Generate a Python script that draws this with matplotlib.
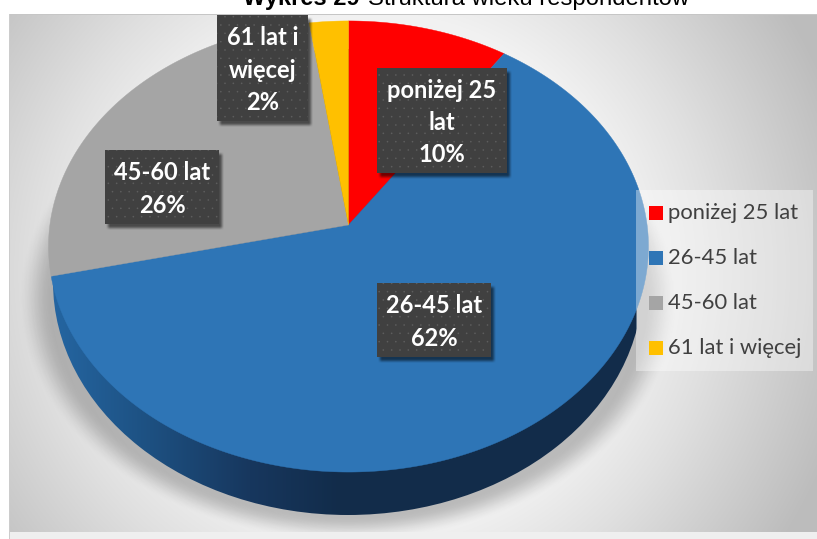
import numpy as np
import matplotlib
matplotlib.use('Agg')
import matplotlib.pyplot as plt
from matplotlib.patches import Rectangle, Ellipse

# dane
categories = ['poniżej 25 lat', '26-45 lat', '45-60 lat', '61 lat i więcej']
shares = [9.5, 61.9, 26.3, 2.3]
colors = ['#ff0000', '#2e75b6', '#a5a5a5', '#ffc000']
box_lines = [['poniżej 25', 'lat'], ['26-45 lat'], ['45-60 lat'], ['61 lat i', 'więcej']]
title_bold = 'Wykres 29'
title_rest = 'Struktura wieku respondentów'

W, H = 817, 539
plt.rcParams['font.family'] = ['Lato', 'DejaVu Sans']
plt.rcParams['hatch.linewidth'] = 0.0
fig = plt.figure(figsize=(W / 100, H / 100), dpi=100)
ax = fig.add_axes([0, 0, 1, 1])
ax.set_axis_off()

xx, yy = np.meshgrid(np.arange(W) + 0.5, np.arange(H) + 0.5)
EXT = (0, W, H, 0)

# tlo - gradient radialny
r = np.hypot(xx - 375, yy - 272)
shade = np.interp(r, [0, 260, 340, 440, 490], [0xf2, 0xf1, 0xe0, 0xc8, 0xbc]) / 255
bg = np.dstack([shade, shade, shade])
bg[yy < 14] = 1
bg[xx < 9] = 1
bg[(yy >= 532) & (xx >= 9)] = 0.94
bg[(yy >= 14) & (yy < 15.5) & (xx >= 9)] = 0.78
bg[(xx >= 9) & (xx < 10.5) & (yy >= 14)] = 0.80
ax.imshow(bg, extent=EXT, aspect='auto', zorder=0)

# cien pod wykresem
d = (np.hypot((xx - 348) / 313, (yy - 300) / 229) - 1) * 270
sh = np.clip(0.5 - d / 30, 0, 1)
sh = sh * sh * (3 - 2 * sh) * 0.23
sh[(yy < 14) | (xx < 9) | (yy >= 532)] = 0
ax.imshow(np.dstack([np.zeros_like(sh)] * 3 + [sh]), extent=EXT, aspect='auto', zorder=1)

# bok kola
wall_x = [50, 60, 150, 250, 340, 640]
wall_r = [0x26, 0x24, 0x1d, 0x17, 0x12, 0x12]
wall_g = [0x66, 0x64, 0x50, 0x37, 0x2c, 0x2c]
wall_b = [0xa3, 0x9f, 0x81, 0x5e, 0x4a, 0x4a]
col = np.dstack([np.interp(xx, wall_x, c) / 255 for c in (wall_r, wall_g, wall_b)])
alpha = (xx < 637).astype(float)
im = ax.imshow(np.dstack([col, alpha]), extent=EXT, aspect='auto', zorder=2)
el = Ellipse((348, 282), 590, 466, transform=ax.transData, fc='none', ec='none')
ax.add_patch(el)
im.set_clip_path(el)

# gorna powierzchnia - rzut perspektywiczny kola
cx, cy = 348.5, 225
Ax, Ay, k = 298.6, 223.5, 0.0953


def project(frac):
    a = 2 * np.pi * frac
    u, v = np.sin(a), np.cos(a)
    den = 1 + k * v
    return cx + Ax * u / den, cy - Ay * v / den


cum = 0
for share, color in zip(shares, colors):
    t = np.linspace(cum, cum + share, 300) / 100
    px, py = project(t)
    ax.fill(np.r_[cx, px], np.r_[cy, py], color=color, lw=0.3, zorder=3)
    cum += share

# legenda
ax.add_patch(Rectangle((636, 190), 177, 181, fc='white', alpha=0.38, lw=0, zorder=4))
leg_y = [213, 258, 303, 348]
for name, color, y in zip(categories, colors, leg_y):
    ax.add_patch(Rectangle((649, y - 7), 14, 14, fc=color, lw=0, zorder=5))
    ax.text(668, y, name, fontsize=15.8, color='#404040', va='center', ha='left', zorder=5)


def soft(v, a, b, blur=5.0):
    s = np.clip((v - a) / blur + 0.5, 0, 1) * np.clip((b - v) / blur + 0.5, 0, 1)
    return s * s * (3 - 2 * s)


# etykiety
box_x = [377, 377, 105, 217]
box_y = [68, 283, 150, 15]
box_w = [130, 114, 114, 91]
box_h = [105, 74, 74, 106]
line_h = 32.5
for lines, share, x, y, w, h in zip(box_lines, shares, box_x, box_y, box_w, box_h):
    a = soft(xx, x + 3, x + w + 3) * soft(yy, y + 4, y + h + 4) * 0.55
    ax.imshow(np.dstack([np.zeros_like(a)] * 3 + [a]), extent=EXT, aspect='auto', zorder=6)
    ax.add_patch(Rectangle((x, y), w, h, fc='#404040', ec='#5e5e5e', hatch='..', lw=0, zorder=7))
    txt = lines + [f'{round(share)}%']
    y0 = y + h / 2 - line_h * (len(txt) - 1) / 2 + 2
    for i, s in enumerate(txt):
        ax.text(x + w / 2, y0 + i * line_h, s, fontsize=17, fontweight='bold', color='white',
                ha='center', va='center', zorder=8)

# tytul (u gory przyciety)
ax.text(243, 4.5, title_bold, fontsize=17, fontweight='bold', family='Liberation Sans',
        color='black', ha='left', va='baseline', zorder=9)
ax.text(368, 4.5, title_rest, fontsize=17.2, family='Liberation Sans',
        color='black', ha='left', va='baseline', zorder=9)

ax.set_xlim(0, W)
ax.set_ylim(H, 0)
fig.savefig('out.png', dpi=100)
